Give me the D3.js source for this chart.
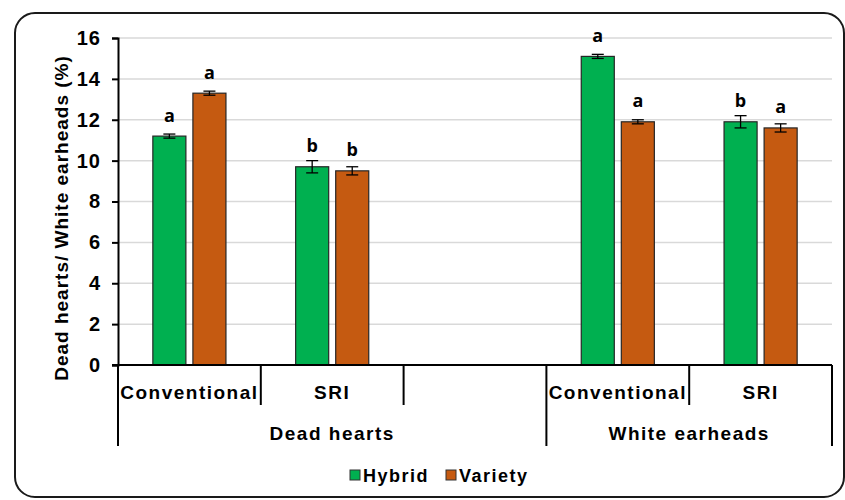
<!DOCTYPE html>
<html>
<head>
<meta charset="utf-8">
<script src="https://cdn.jsdelivr.net/npm/d3@7"></script>
<style>
  html, body { margin: 0; padding: 0; background: #fff; }
  svg { display: block; }
  .lbl { font-family: "Liberation Sans", Arial, sans-serif; font-weight: bold; fill: #000; }
  .sig { font-family: "Open Sans", sans-serif; font-weight: bold; fill: #000; }
</style>
</head>
<body>
<svg id="chart" width="845" height="500"></svg>
<script>
// Category slots along the x axis (the third slot is left empty)
const categories = ["Conventional", "SRI", "", "Conventional", "SRI"];
// Outer grouping: label plus first/last slot it spans
const groups = [
  { name: "Dead hearts", from: 0, to: 2 },
  { name: "White earheads", from: 3, to: 4 }
];
const seriesNames = ["Hybrid", "Variety"];
const hybridValues  = [11.2, 9.7, null, 15.1, 11.9];
const varietyValues = [13.3, 9.5, null, 11.9, 11.6];
const hybridErrors  = [0.1, 0.3, null, 0.1, 0.3];
const varietyErrors = [0.1, 0.2, null, 0.1, 0.2];
const hybridLetters  = ["a", "b", "", "a", "b"];
const varietyLetters = ["a", "b", "", "a", "a"];
const yTicks = [0, 2, 4, 6, 8, 10, 12, 14, 16];
const colors = { Hybrid: "#00b050", Variety: "#c55a11" };

const svg = d3.select("#chart");

// Rounded frame around the whole chart
svg.append("rect")
  .attr("x", 15).attr("y", 13)
  .attr("width", 829).attr("height", 484)
  .attr("rx", 20).attr("ry", 20)
  .attr("fill", "#fff").attr("stroke", "#1a1a1a").attr("stroke-width", 2);

const plotLeft = 118, plotRight = 832, plotTop = 38, plotBottom = 365;

const x0 = d3.scaleBand().domain(d3.range(categories.length)).range([plotLeft, plotRight]).padding(0);
const x1 = d3.scaleBand().domain(seriesNames).range([0, x0.bandwidth()])
  .paddingInner(0.175).paddingOuter(0.87);
const y = d3.scaleLinear().domain([0, 16]).range([plotBottom, plotTop]);

// Horizontal gridlines
svg.append("g").selectAll("line").data(yTicks.filter(t => t > 0)).join("line")
  .attr("x1", plotLeft).attr("x2", plotRight)
  .attr("y1", d => y(d)).attr("y2", d => y(d))
  .attr("stroke", "#d9d9d9").attr("stroke-width", 1.5);

// Y axis
const yAxis = svg.append("g").attr("transform", `translate(${plotLeft},0)`)
  .call(d3.axisLeft(y).tickValues(yTicks).tickSize(6).tickPadding(11).tickFormat(d3.format("d")));
yAxis.select(".domain").attr("stroke", "#000").attr("stroke-width", 2);
yAxis.selectAll(".tick line").attr("stroke", "#000").attr("stroke-width", 2);
yAxis.selectAll(".tick text").attr("class", "lbl").attr("font-size", 20)
  .attr("letter-spacing", 1);

// Series data rows
const rows = categories.map((c, i) => ({
  i,
  bars: [
    { s: "Hybrid", v: hybridValues[i], e: hybridErrors[i], l: hybridLetters[i] },
    { s: "Variety", v: varietyValues[i], e: varietyErrors[i], l: varietyLetters[i] }
  ].filter(b => b.v != null)
}));

const slot = svg.append("g").selectAll("g").data(rows).join("g")
  .attr("transform", d => `translate(${x0(d.i)},0)`);

// Bars
slot.selectAll("rect").data(d => d.bars).join("rect")
  .attr("x", b => x1(b.s)).attr("width", x1.bandwidth())
  .attr("y", b => y(b.v)).attr("height", b => y(0) - y(b.v))
  .attr("fill", b => colors[b.s]).attr("stroke", "#262626").attr("stroke-width", 1.2);

// Error bars
const cap = 6;
const eb = slot.selectAll("g.err").data(d => d.bars).join("g").attr("class", "err")
  .attr("stroke", "#000").attr("stroke-width", 1.3);
eb.append("line")
  .attr("x1", b => x1(b.s) + x1.bandwidth() / 2).attr("x2", b => x1(b.s) + x1.bandwidth() / 2)
  .attr("y1", b => y(b.v + b.e)).attr("y2", b => y(b.v - b.e));
eb.append("line")
  .attr("x1", b => x1(b.s) + x1.bandwidth() / 2 - cap).attr("x2", b => x1(b.s) + x1.bandwidth() / 2 + cap)
  .attr("y1", b => y(b.v + b.e)).attr("y2", b => y(b.v + b.e));
eb.append("line")
  .attr("x1", b => x1(b.s) + x1.bandwidth() / 2 - cap).attr("x2", b => x1(b.s) + x1.bandwidth() / 2 + cap)
  .attr("y1", b => y(b.v - b.e)).attr("y2", b => y(b.v - b.e));

// Significance letters above bars
slot.selectAll("text").data(d => d.bars).join("text")
  .attr("class", "sig").attr("font-size", 18).attr("text-anchor", "middle")
  .attr("x", b => x1(b.s) + x1.bandwidth() / 2)
  .attr("y", b => y(b.v) - 14.5)
  .text(b => b.l);

// X axis baseline
svg.append("line").attr("x1", plotLeft - 6).attr("x2", plotRight)
  .attr("y1", plotBottom).attr("y2", plotBottom)
  .attr("stroke", "#000").attr("stroke-width", 2);

// Category separators: short between slots, long at group edges
const groupEdges = new Set([0, categories.length]);
groups.forEach(g => { groupEdges.add(g.from); groupEdges.add(g.to + 1); });
const edges = d3.range(categories.length + 1);
svg.append("g").selectAll("line").data(edges).join("line")
  .attr("x1", i => i === categories.length ? plotRight : x0(i))
  .attr("x2", i => i === categories.length ? plotRight : x0(i))
  .attr("y1", plotBottom)
  .attr("y2", i => groupEdges.has(i) ? 446 : 405)
  .attr("stroke", "#000").attr("stroke-width", 2);

// Category labels
svg.append("g").selectAll("text").data(categories.map((c, i) => ({ c, i }))).join("text")
  .attr("class", "lbl").attr("font-size", 19).attr("letter-spacing", 1.5)
  .attr("text-anchor", "middle")
  .attr("x", d => x0(d.i) + x0.bandwidth() / 2)
  .attr("y", 399)
  .text(d => d.c);

// Group labels
svg.append("g").selectAll("text").data(groups).join("text")
  .attr("class", "lbl").attr("font-size", 19).attr("letter-spacing", 1.5)
  .attr("text-anchor", "middle")
  .attr("x", g => (x0(g.from) + x0(g.to) + x0.bandwidth()) / 2)
  .attr("y", 439.5)
  .text(g => g.name);

// Y axis title
svg.append("text").attr("class", "lbl").attr("font-size", 19).attr("letter-spacing", 1)
  .attr("text-anchor", "middle")
  .attr("transform", "translate(68,218) rotate(-90)")
  .text("Dead hearts/ White earheads (%)");

// Legend
const legendX = [350, 446];
const lg = svg.append("g").selectAll("g").data(seriesNames).join("g")
  .attr("transform", (s, i) => `translate(${legendX[i]},470)`);
lg.append("rect").attr("width", 10).attr("height", 10)
  .attr("fill", s => colors[s]).attr("stroke", "#333").attr("stroke-width", 1);
lg.append("text").attr("class", "lbl").attr("font-size", 18).attr("letter-spacing", 1.5)
  .attr("x", 13).attr("y", 11.5).text(s => s);
</script>
</body>
</html>
